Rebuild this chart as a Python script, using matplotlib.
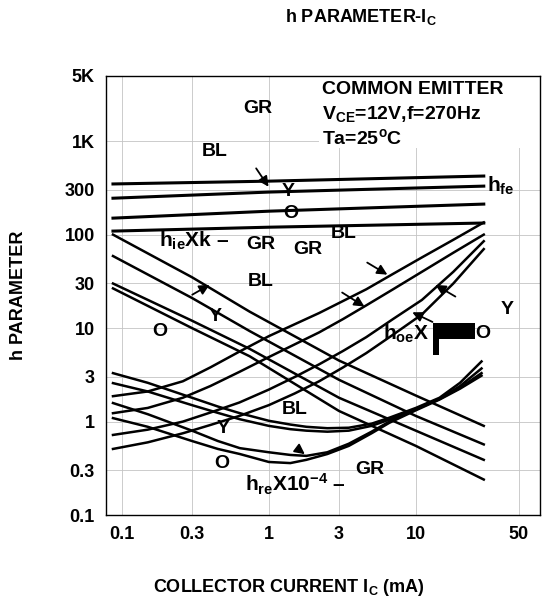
import numpy as np
import matplotlib.pyplot as plt
from matplotlib.patches import Rectangle

plt.rcParams['font.family'] = ['Liberation Sans', 'DejaVu Sans']
plt.rcParams['font.weight'] = 'bold'
plt.rcParams['mathtext.fontset'] = 'custom'
plt.rcParams['mathtext.rm'] = 'Liberation Sans:bold'
plt.rcParams['mathtext.it'] = 'Liberation Sans:bold'
plt.rcParams['mathtext.bf'] = 'Liberation Sans:bold'

# ---- data (Ic in mA) ----
hfe_x = [0.087, 1.0, 29]
hfe_GR = [348, 373, 423]
hfe_BL = [245, 285, 330]
hfe_Y = [150, 178, 212]
hfe_O = [109, 120, 133]

hie_x = [0.087, 0.3, 0.74, 3.0, 10, 29]
hie_GR = [100, 35, 15, 4.5, 1.9, 0.9]
hie_BL = [59, 21, 9.3, 2.8, 1.15, 0.57]
hie_Y = [30, 12, 6.0, 1.8, 0.8, 0.39]
hie_O = [26.6, 10, 5.0, 1.3, 0.55, 0.24]

hoe_x = [0.087, 0.15, 0.26, 0.4, 0.63, 1.0, 1.5, 2.2, 3.2, 4.6, 7, 11, 18, 29]
hoe_1 = [1.87, 2.1, 2.7, 3.8, 5.6, 8.2, 11, 14.5, 19.5, 26, 38, 57, 88, 135]
hoe_2 = [1.23, 1.4, 1.8, 2.4, 3.4, 4.9, 6.7, 9.0, 12.5, 17.5, 26, 40, 64, 100]
hoe_3 = [0.72, 0.82, 1.0, 1.25, 1.6, 2.2, 3.0, 4.1, 5.7, 8.0, 12.5, 20, 40, 85]
hoe_4 = [0.51, 0.6, 0.75, 0.92, 1.15, 1.5, 2.0, 2.7, 3.8, 5.4, 8.5, 14, 30, 70]

hre_x = [0.087, 0.15, 0.3, 0.45, 0.635, 1.0, 1.4, 1.8, 2.5, 3.5, 5, 6.6, 10, 14.5, 20, 28]
hre_1 = [3.3, 2.6, 1.8, 1.45, 1.23, 1.02, 0.93, 0.88, 0.85, 0.86, 0.95, 1.1, 1.4, 1.8, 2.6, 4.4]
hre_2 = [2.58, 2.1, 1.5, 1.24, 1.06, 0.9, 0.83, 0.8, 0.78, 0.8, 0.9, 1.05, 1.35, 1.75, 2.4, 3.7]
hre_3 = [1.58, 1.2, 0.8, 0.62, 0.52, 0.47, 0.44, 0.43, 0.47, 0.58, 0.78, 1.0, 1.35, 1.75, 2.3, 3.3]
hre_4 = [1.09, 0.88, 0.62, 0.51, 0.45, 0.37, 0.36, 0.39, 0.45, 0.55, 0.75, 0.97, 1.32, 1.72, 2.25, 3.1]

xticks = [0.1, 0.3, 1, 3, 10, 50]
xlabels = ['0.1', '0.3', '1', '3', '10', '50']
yticks = [0.1, 0.3, 1, 3, 10, 30, 100, 300, 1000, 5000]
ylabels = ['0.1', '0.3', '1', '3', '10', '30', '100', '300', '1K', '5K']

fig = plt.figure(figsize=(5.55, 6.06), dpi=100)
ax = fig.add_axes([0.191, 0.150, 0.782, 0.725])
ax.set_xscale('log')
ax.set_yscale('log')
ax.set_xlim(0.078, 70)
ax.set_ylim(0.1, 5000)

ax.grid(which='both', color='#c4c4c4', lw=0.6)
ax.set_axisbelow(True)

lw = 1.8
for ys in (hfe_GR, hfe_BL, hfe_Y, hfe_O):
    ax.plot(hfe_x, ys, color='k', lw=2.2)
for ys in (hie_GR, hie_BL, hie_Y, hie_O):
    ax.plot(hie_x, ys, color='k', lw=lw)
for ys in (hoe_1, hoe_2, hoe_3, hoe_4):
    ax.plot(hoe_x, ys, color='k', lw=lw)
for ys in (hre_1, hre_2, hre_3, hre_4):
    ax.plot(hre_x, ys, color='k', lw=lw)

ax.set_xticks(xticks)
ax.set_xticklabels(xlabels)
ax.set_yticks(yticks)
ax.set_yticklabels(ylabels)
ax.minorticks_off()
ax.tick_params(length=0, labelsize=13, pad=8)
for lab in ax.get_xticklabels() + ax.get_yticklabels():
    lab.set_fontweight('bold')
for s in ax.spines.values():
    s.set_linewidth(1.0)

# curve labels
fs = 14
lbl = dict(fontsize=fs, fontweight='bold', ha='center', va='center')
ax.text(0.84, 2250, 'GR', **lbl)
ax.text(0.43, 782, 'BL', **lbl)
ax.text(1.35, 292, 'Y', **lbl)
ax.text(1.41, 170, 'O', **lbl)
ax.text(30.4, 330, r'h$\mathregular{_{fe}}$', fontsize=15, fontweight='bold', ha='left', va='center')

ax.text(0.18, 85, r'h$\mathregular{_{ie}}$X$\mathregular{k}$ –', fontsize=15, fontweight='bold', ha='left', va='center')
ax.text(0.88, 79, 'GR', **lbl)
ax.text(1.84, 70, 'GR', **lbl)
ax.text(3.24, 104, 'BL', **lbl)
ax.text(0.88, 31.8, 'BL', **lbl)
ax.text(0.43, 13.4, 'Y', **lbl)
ax.text(0.18, 9.3, 'O', **lbl)

ax.text(1.50, 1.36, 'BL', **lbl)
ax.text(0.49, 0.85, 'Y', **lbl)
ax.text(0.48, 0.36, 'O', **lbl)
ax.text(4.87, 0.31, 'GR', **lbl)
ax.text(0.69, 0.215, r'h$\mathregular{_{re}}$X10$\mathregular{^{-4}}$ –', fontsize=15, fontweight='bold', ha='left', va='center')

ax.text(5.97, 8.6, r'h$\mathregular{_{oe}}$X', fontsize=15, fontweight='bold', ha='left', va='center')
ax.add_patch(Rectangle((13.1, 7.6), 12, 3.7, color='k', lw=0))
ax.add_patch(Rectangle((13.1, 5.2), 1.3, 2.6, color='k', lw=0))
ax.text(28.6, 8.8, 'O', **lbl)
ax.text(42, 16, 'Y', **lbl)

# pointer arrows
ap = dict(arrowstyle='-|>', color='k', lw=1.3, mutation_scale=15)
ax.annotate('', xy=(1.02, 307), xytext=(0.80, 541), arrowprops=ap)
ax.annotate('', xy=(0.41, 30), xytext=(0.29, 22), arrowprops=ap)
ax.annotate('', xy=(6.65, 36), xytext=(4.5, 52), arrowprops=ap)
ax.annotate('', xy=(4.64, 16.4), xytext=(3.04, 24.9), arrowprops=ap)
ax.annotate('', xy=(13.1, 30), xytext=(19.3, 21), arrowprops=ap)
ax.annotate('', xy=(9.1, 15.2), xytext=(13.5, 11.3), arrowprops=ap)
ax.annotate('', xy=(1.82, 0.43), xytext=(1.55, 0.52), arrowprops=ap)

# conditions block
cond = dict(transform=ax.transAxes, fontsize=14, fontweight='bold', ha='left', va='center')
ax.add_patch(Rectangle((0.49, 0.835), 0.51, 0.165, transform=ax.transAxes,
                       facecolor='white', edgecolor='none', zorder=2))
ax.text(0.498, 0.968, 'COMMON EMITTER', zorder=3, **cond)
ax.text(0.498, 0.913, r'V$\mathregular{_{CE}}$=12V,f=270Hz', zorder=3, **cond)
ax.text(0.498, 0.859, r'Ta=25$\mathregular{^{o}}$C', zorder=3, **cond)

fig.text(0.65, 0.972, r'h PARAMETER-I$\mathregular{_{C}}$', fontsize=13, fontweight='bold',
         ha='center', va='center')
fig.text(0.52, 0.030, r'COLLECTOR CURRENT I$\mathregular{_{C}}$ (mA)', fontsize=13,
         fontweight='bold', ha='center', va='center')
fig.text(0.033, 0.513, 'h PARAMETER', fontsize=13, fontweight='bold', rotation=90,
         ha='center', va='center')

fig.savefig('out.png', dpi=100)
